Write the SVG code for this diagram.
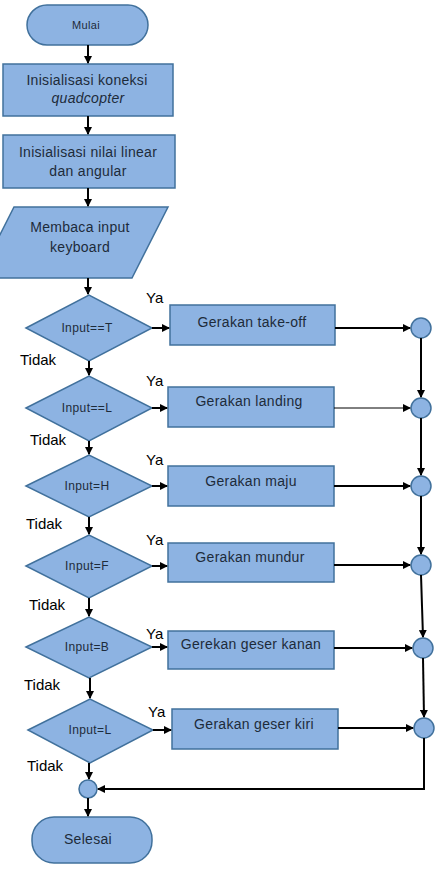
<svg xmlns="http://www.w3.org/2000/svg" width="442" height="871" viewBox="0 0 442 871">
<style>
.s{fill:#8DB3E2;stroke:#41719C;stroke-width:1.5}
.t{font-family:"Liberation Sans",Arial,sans-serif;font-size:14px;letter-spacing:0.3px;fill:#1d2b3a;text-anchor:middle}
.d{font-size:12px;letter-spacing:0.4px}
.l{font-family:"Liberation Sans",Arial,sans-serif;font-size:15px;fill:#000}
.c{fill:none;stroke:#000;stroke-width:2}
</style>
<defs>
<marker id="ah" markerWidth="8" markerHeight="8" refX="7" refY="4" orient="auto" markerUnits="userSpaceOnUse">
<path d="M0,0 L8,4 L0,8 Z" fill="#000"/>
</marker>
</defs>
<rect width="442" height="871" fill="#fff"/>
<g id="mulai"><rect class="s" x="27" y="5" width="121" height="40" rx="20"/><text class="t" x="86" y="29" style="font-size:11px">Mulai</text></g>
<g id="init1"><rect class="s" x="3" y="64" width="170" height="52"/><text class="t" x="87" y="85">Inisialisasi koneksi</text><text class="t" x="88" y="103" font-style="italic">quadcopter</text></g>
<g id="init2"><rect class="s" x="3" y="135" width="172" height="53"/><text class="t" x="88" y="157">Inisialisasi nilai linear</text><text class="t" x="88" y="176">dan angular</text></g>
<g id="input"><polygon class="s" points="14,207 168,207 132,278 -22,278"/><text class="t" x="80" y="232">Membaca input</text><text class="t" x="80" y="252">keyboard</text></g>
<g id="d1"><polygon class="s" points="26,328 89,295 152,328 89,361"/><text class="t d" x="87" y="332">Input==T</text></g>
<g id="d2"><polygon class="s" points="26,408 89,376 152,408 89,441"/><text class="t d" x="87" y="412">Input==L</text></g>
<g id="d3"><polygon class="s" points="26,486 89,455 152,486 89,517"/><text class="t d" x="87" y="490">Input=H</text></g>
<g id="d4"><polygon class="s" points="26,566 89,535 152,566 89,598"/><text class="t d" x="87" y="570">Input=F</text></g>
<g id="d5"><polygon class="s" points="26,647 89,617 152,647 89,678"/><text class="t d" x="87" y="651">Input=B</text></g>
<g id="d6"><polygon class="s" points="28,730 90,699 153,730 90,763"/><text class="t d" x="90" y="734">Input=L</text></g>
<g id="r1"><rect class="s" x="170" y="305" width="165" height="40"/><text class="t" x="252" y="327">Gerakan take-off</text></g>
<g id="r2"><rect class="s" x="168" y="387" width="166" height="40"/><text class="t" x="249" y="406">Gerakan landing</text></g>
<g id="r3"><rect class="s" x="168" y="466" width="166" height="40"/><text class="t" x="251" y="486">Gerakan maju</text></g>
<g id="r4"><rect class="s" x="168" y="543" width="166" height="39"/><text class="t" x="250" y="562">Gerakan mundur</text></g>
<g id="r5"><rect class="s" x="168" y="631" width="166" height="38"/><text class="t" x="251" y="649">Gerekan geser kanan</text></g>
<g id="r6"><rect class="s" x="172" y="709" width="166" height="40"/><text class="t" x="254" y="729">Gerakan geser kiri</text></g>
<g id="j1"><circle class="s" cx="421" cy="328" r="10"/></g>
<g id="j2"><circle class="s" cx="421" cy="408" r="10"/></g>
<g id="j3"><circle class="s" cx="421" cy="486" r="10"/></g>
<g id="j4"><circle class="s" cx="421" cy="565" r="10"/></g>
<g id="j5"><circle class="s" cx="423" cy="648" r="10"/></g>
<g id="j6"><circle class="s" cx="424" cy="728" r="10"/></g>
<g id="j7"><circle class="s" cx="88" cy="789" r="9"/></g>
<g id="selesai"><rect class="s" x="32" y="817" width="120" height="46" rx="22"/><text class="t" x="88" y="844">Selesai</text></g>
<g id="labels">
<text class="l" x="146" y="303">Ya</text><text class="l" x="146" y="386">Ya</text><text class="l" x="146" y="465">Ya</text><text class="l" x="146" y="545">Ya</text><text class="l" x="146" y="639">Ya</text><text class="l" x="148" y="717">Ya</text>
<text class="l" x="20" y="365">Tidak</text><text class="l" x="30" y="445">Tidak</text><text class="l" x="26" y="529">Tidak</text><text class="l" x="29" y="610">Tidak</text><text class="l" x="24" y="690">Tidak</text><text class="l" x="27" y="771">Tidak</text>
</g>
<g id="connectors">
<line class="c" x1="88" y1="45" x2="88" y2="63" marker-end="url(#ah)"/>
<line class="c" x1="88" y1="116" x2="88" y2="134" marker-end="url(#ah)"/>
<line class="c" x1="88" y1="188" x2="88" y2="206" marker-end="url(#ah)"/>
<line class="c" x1="88" y1="278" x2="88" y2="294" marker-end="url(#ah)"/>
<line class="c" x1="89" y1="361" x2="89" y2="375" marker-end="url(#ah)"/>
<line class="c" x1="89" y1="441" x2="89" y2="454" marker-end="url(#ah)"/>
<line class="c" x1="89" y1="517" x2="89" y2="534" marker-end="url(#ah)"/>
<line class="c" x1="89" y1="598" x2="89" y2="616" marker-end="url(#ah)"/>
<line class="c" x1="90" y1="678" x2="90" y2="698" marker-end="url(#ah)"/>
<line class="c" x1="89" y1="763" x2="89" y2="779" marker-end="url(#ah)"/>
<line class="c" x1="88" y1="798" x2="88" y2="816" marker-end="url(#ah)"/>
<line class="c" x1="152" y1="328" x2="169" y2="328" marker-end="url(#ah)"/>
<line class="c" x1="152" y1="408" x2="167" y2="408" marker-end="url(#ah)"/>
<line class="c" x1="152" y1="486" x2="167" y2="486" marker-end="url(#ah)"/>
<line class="c" x1="152" y1="566" x2="167" y2="566" marker-end="url(#ah)"/>
<line class="c" x1="152" y1="647" x2="167" y2="647" marker-end="url(#ah)"/>
<line class="c" x1="153" y1="730" x2="171" y2="730" marker-end="url(#ah)"/>
<line class="c" x1="335" y1="328" x2="410" y2="328" marker-end="url(#ah)"/>
<line class="c" x1="334" y1="408" x2="410" y2="408" marker-end="url(#ah)" style="stroke-width:1"/>
<line class="c" x1="334" y1="486" x2="410" y2="486" marker-end="url(#ah)"/>
<line class="c" x1="334" y1="565" x2="410" y2="565" marker-end="url(#ah)"/>
<line class="c" x1="334" y1="648" x2="412" y2="648" marker-end="url(#ah)"/>
<line class="c" x1="338" y1="728" x2="413" y2="728" marker-end="url(#ah)"/>
<line class="c" x1="421" y1="338" x2="421" y2="397" marker-end="url(#ah)"/>
<line class="c" x1="421" y1="418" x2="421" y2="475" marker-end="url(#ah)"/>
<line class="c" x1="421" y1="496" x2="421" y2="554" marker-end="url(#ah)"/>
<line class="c" x1="421" y1="575" x2="423" y2="637" marker-end="url(#ah)"/>
<line class="c" x1="423" y1="658" x2="424" y2="717" marker-end="url(#ah)"/>
<polyline class="c" points="424,738 424,789 98,789" marker-end="url(#ah)"/>
</g>
</svg>
